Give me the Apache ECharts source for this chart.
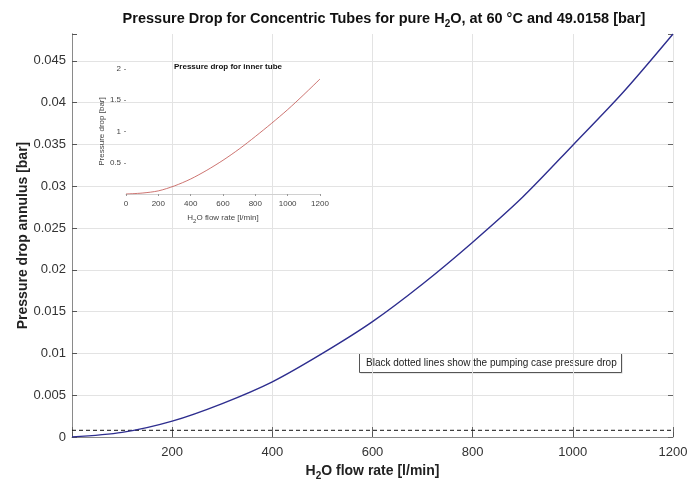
<!DOCTYPE html>
<html>
<head>
<meta charset="utf-8">
<script src="https://cdn.jsdelivr.net/npm/echarts@6/dist/echarts.min.js"></script>
<style>
  html, body { margin: 0; padding: 0; background: #fff; }
  #chart { width: 688px; height: 483px; }
</style>
</head>
<body>
<div id="chart"></div>
<script>
// Annulus pressure drop vs. water flow rate (main plot)
const flowRate = [0, 100, 200, 300, 400, 500, 600, 700, 800, 900, 1000, 1100, 1200];
const annulusDrop = [0, 0.00055, 0.0019, 0.0040, 0.0066, 0.0100, 0.0138, 0.0183, 0.0233, 0.0287, 0.0349, 0.0412, 0.0482];

// Pumping-case reference level (black dashed)
const pumpingDrop = 0.0008;

// Inner tube pressure drop (inset)
const innerFlow = [0, 100, 200, 300, 400, 500, 600, 700, 800, 900, 1000, 1100, 1200];
const innerDrop = [0, 0.015, 0.05, 0.13, 0.24, 0.38, 0.54, 0.72, 0.92, 1.13, 1.35, 1.59, 1.84];

// Axis ranges and tick steps
const xMain = { min: 0, max: 1200, step: 200 };
const yMain = { min: 0, max: 0.0482, step: 0.005 };
const xInset = { min: 0, max: 1200, step: 200 };
const yInset = { min: 0, max: 2, step: 0.5 };

const FONT = '"Liberation Sans", Arial, Helvetica, sans-serif';
const chart = echarts.init(document.getElementById('chart'), null, { renderer: 'canvas' });

const mainGrid = { left: 72, right: 15, top: 34, bottom: 46, containLabel: false, outerBoundsMode: 'none' };
const insetGrid = { left: 126, right: 368, top: 69, bottom: 289, containLabel: false, outerBoundsMode: 'none' };

const plain = v => String(+(+v).toFixed(4));
const TICK = 5;

// Tick-only axes shifted into the plot so their marks sit inside the frame
const tickAxis = (pos, range, color) => ({
  type: 'value', gridIndex: 0, position: pos, offset: -TICK,
  min: range.min, max: range.max, interval: range.step,
  axisLine: { show: false },
  axisTick: { show: true, length: TICK, lineStyle: { color: color, width: 1 } },
  axisLabel: { show: false },
  splitLine: { show: false }
});

const option = {
  backgroundColor: '#ffffff',
  animation: false,
  title: [
    {
      text: '{b|Pressure Drop for Concentric Tubes for pure H}{s|2}{b|O, at 60 °C and 49.0158 [bar]}',
      left: 379, top: 4, textAlign: 'center',
      textStyle: {
        rich: {
          b: { fontFamily: FONT, fontSize: 14.5, fontWeight: 'bold', color: '#111' },
          s: { fontFamily: FONT, fontSize: 10, fontWeight: 'bold', color: '#111', padding: [10, 0, 0, 0] }
        }
      }
    },
    {
      text: 'Pressure drop for inner tube',
      left: 223, top: 58, textAlign: 'center',
      textStyle: { fontFamily: FONT, fontSize: 8, fontWeight: 'bold', color: '#111' }
    }
  ],
  grid: [mainGrid, insetGrid],
  xAxis: [
    {
      type: 'value', gridIndex: 0, min: xMain.min, max: xMain.max, interval: xMain.step,
      name: '{b|H}{s|2}{b|O flow rate [l/min]}', nameLocation: 'middle', nameGap: 24, nameMoveOverlap: false,
      nameTextStyle: {
        rich: {
          b: { fontFamily: FONT, fontSize: 14, fontWeight: 'bold', color: '#222' },
          s: { fontFamily: FONT, fontSize: 10, fontWeight: 'bold', color: '#222', padding: [10, 0, 0, 0] }
        }
      },
      axisLine: { show: true, lineStyle: { color: '#8a8a8a', width: 1 } },
      axisTick: { show: false },
      axisLabel: { showMinLabel: false, margin: 9, fontFamily: FONT, fontSize: 13, color: '#333', formatter: plain },
      splitLine: { show: true, lineStyle: { color: '#e3e3e3', width: 1 } }
    },
    tickAxis('bottom', xMain, '#555'),
    tickAxis('top', xMain, '#666'),
    {
      type: 'value', gridIndex: 1, min: xInset.min, max: xInset.max, interval: xInset.step,
      name: '{b|H}{s|2}{b|O flow rate [l/min]}', nameLocation: 'middle', nameGap: 18,
      nameTextStyle: {
        rich: {
          b: { fontFamily: FONT, fontSize: 8, color: '#444' },
          s: { fontFamily: FONT, fontSize: 6, color: '#444', padding: [6, 0, 0, 0] }
        }
      },
      axisLine: { show: true, lineStyle: { color: '#d0d0d0', width: 1 } },
      axisTick: { show: true, length: 2, lineStyle: { color: '#999', width: 1 } },
      axisLabel: { margin: 6, fontFamily: FONT, fontSize: 8, color: '#444', formatter: plain },
      splitLine: { show: false }
    }
  ],
  yAxis: [
    {
      type: 'value', gridIndex: 0, min: yMain.min, max: yMain.max, interval: yMain.step,
      name: 'Pressure drop annulus [bar]', nameLocation: 'middle', nameGap: 42, nameRotate: 90, nameMoveOverlap: false,
      nameTextStyle: { fontFamily: FONT, fontSize: 14, fontWeight: 'bold', color: '#222' },
      axisLine: { show: true, lineStyle: { color: '#8a8a8a', width: 1 } },
      axisTick: { show: false },
      axisLabel: { showMaxLabel: false, margin: 6, fontFamily: FONT, fontSize: 13, color: '#333', formatter: plain },
      splitLine: { show: true, showMaxLine: false, lineStyle: { color: '#e3e3e3', width: 1 } }
    },
    {
      type: 'value', gridIndex: 0, position: 'right', min: yMain.min, max: yMain.max, interval: yMain.step,
      axisLine: { show: true, lineStyle: { color: '#8a8a8a', width: 1 } },
      axisTick: { show: false },
      axisLabel: { show: false },
      splitLine: { show: false }
    },
    tickAxis('left', yMain, '#555'),
    tickAxis('right', yMain, '#666'),
    {
      type: 'value', gridIndex: 1, min: yInset.min, max: yInset.max, interval: yInset.step,
      name: 'Pressure drop [bar]', nameLocation: 'middle', nameGap: 17, nameRotate: 90,
      nameTextStyle: { fontFamily: FONT, fontSize: 8, color: '#444' },
      axisLine: { show: false },
      axisTick: { show: true, length: 2, lineStyle: { color: '#999', width: 1 } },
      axisLabel: { showMinLabel: false, margin: 5, fontFamily: FONT, fontSize: 8, color: '#444', formatter: plain },
      splitLine: { show: false }
    }
  ],
  series: [
    {
      name: 'Annulus', type: 'line', xAxisIndex: 0, yAxisIndex: 0,
      data: flowRate.map((q, i) => [q, annulusDrop[i]]),
      smooth: 0.3, showSymbol: false, symbol: 'none',
      lineStyle: { color: '#2e2e8f', width: 1.4 }, z: 3
    },
    {
      name: 'Pumping case', type: 'line', xAxisIndex: 0, yAxisIndex: 0,
      data: [[xMain.min, pumpingDrop], [xMain.max, pumpingDrop]],
      showSymbol: false, symbol: 'none',
      lineStyle: { color: '#111', width: 1, type: [4, 3] }, z: 2
    },
    {
      name: 'Inner tube', type: 'line', xAxisIndex: 3, yAxisIndex: 4,
      data: innerFlow.map((q, i) => [q, innerDrop[i]]),
      smooth: 0.3, showSymbol: false, symbol: 'none',
      lineStyle: { color: '#c0504d', width: 0.8 }, z: 3
    }
  ],
  graphic: [
    {
      type: 'group', left: 359, top: 353, z: 100,
      children: [
        { type: 'rect', shape: { x: 1.5, y: 1.5, width: 262, height: 19 },
          style: { fill: '#cfcfcf' } },
        { type: 'rect', shape: { x: 0.5, y: 0.5, width: 262, height: 19 },
          style: { fill: '#fff', stroke: '#555', lineWidth: 1 } },
        { type: 'text', x: 7, y: 10.5,
          style: { text: 'Black dotted lines show the pumping case pressure drop',
                   font: '10px ' + FONT, fill: '#222', verticalAlign: 'middle' } }
      ]
    }
  ]
};

chart.setOption(option);
</script>
</body>
</html>
